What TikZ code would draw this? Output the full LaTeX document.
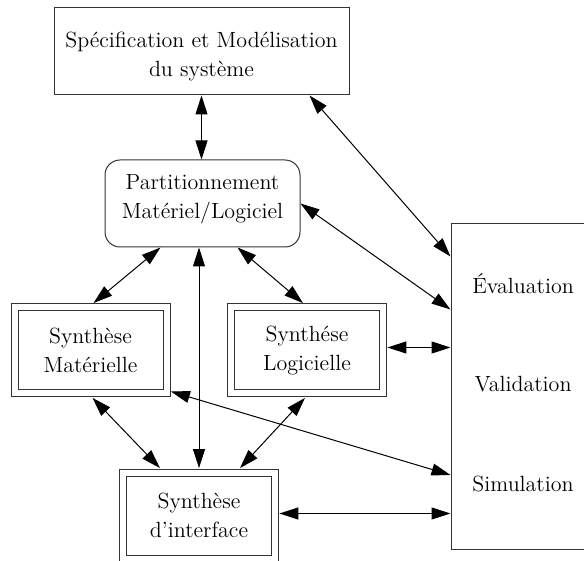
\documentclass[tikz,border=0pt]{standalone}
\usepackage{fontspec}
\usetikzlibrary{arrows.meta,calc}

\tikzset{
  lbl/.style={font=\fontsize{11}{14.5}\selectfont, align=center},
  plainbox/.style={lbl, draw=black!80, line width=0.5pt, inner sep=0pt},
  roundbox/.style={plainbox, rounded corners=7.5pt},
  doublebox/.style={lbl, draw=black!80, line width=0.5pt, double, double distance=3pt,
    inner sep=0pt, outer sep=2.2pt, minimum width=76pt, minimum height=43pt},
  link/.style={<->, line width=0.5pt,
    >={Triangle[length=9.5pt, width=6pt]}},
}

\begin{document}
\begin{tikzpicture}[x=0.5pt, y=-0.5pt]
  \useasboundingbox (0,0) rectangle (584,561);
  \clip (0,0) rectangle (584,561);

  % specification and partitioning
  \node[plainbox, minimum width=147.5pt, minimum height=43.5pt] (spec) at (201.5,51.5) {};
  \node[lbl] (spectxt) at (201.5,57) {Spécification et Modélisation\\du système};
  \node[roundbox, minimum width=97.5pt, minimum height=43.5pt] (part) at (202.5,203.5) {};
  \node[lbl] (parttxt) at (202.5,199.5) {Partitionnement\\Matériel/Logiciel};

  % the three synthesis steps
  \node[doublebox] (smat) at (90.5,350.5) {Synthèse\\Matérielle};
  \node[doublebox] (slog) at (307,350.5) {Synthése\\Logicielle};
  \node[doublebox] (sif) at (199,515.5) {Synthèse\\d'interface};

  % evaluation / validation / simulation block
  \node[plainbox, minimum width=73pt, minimum height=162.5pt] (evb) at (524,386.5) {};
  \node[lbl] (eval) at (523,284) {Évaluation};
  \node[lbl] (valid) at (523,384) {Validation};
  \node[lbl] (simu) at (523,484) {Simulation};

  % end points of the horizontal links
  \coordinate (slogR) at ($(slog.east)+(0,-3)$);
  \coordinate (sifR) at ($(sif.east)+(0,-2)$);

  % connections
  \draw[link] (spec.south) -- (spec.south |- part.north);
  \draw[link] ($(spec.south east)+(-40,0)$) -- ($(evb.north west)+(0,33)$);
  \draw[link] (part.east) -- ($(evb.north west)+(0,86)$);
  \draw[link] ($(part.south)+(-42,0)$) -- ($(smat.north)+(3,0)$);
  \draw[link] ($(part.south)+(35,0)$) -- ($(slog.north)+(-4,0)$);
  \draw[link] (sif.north |- part.south) -- (sif.north);
  \draw[link] (slogR) -- (slogR -| evb.west);
  \draw[link] ($(smat.south)+(2,0)$) -- ($(sif.north)+(-39,0)$);
  \draw[link] ($(slog.south)+(-2,0)$) -- ($(sif.north)+(41,0)$);
  \draw[link] ($(smat.east)+(0,41)$) -- ($(evb.west)+(0,88.5)$);
  \draw[link] (sifR) -- (sifR -| evb.west);
\end{tikzpicture}
\end{document}
